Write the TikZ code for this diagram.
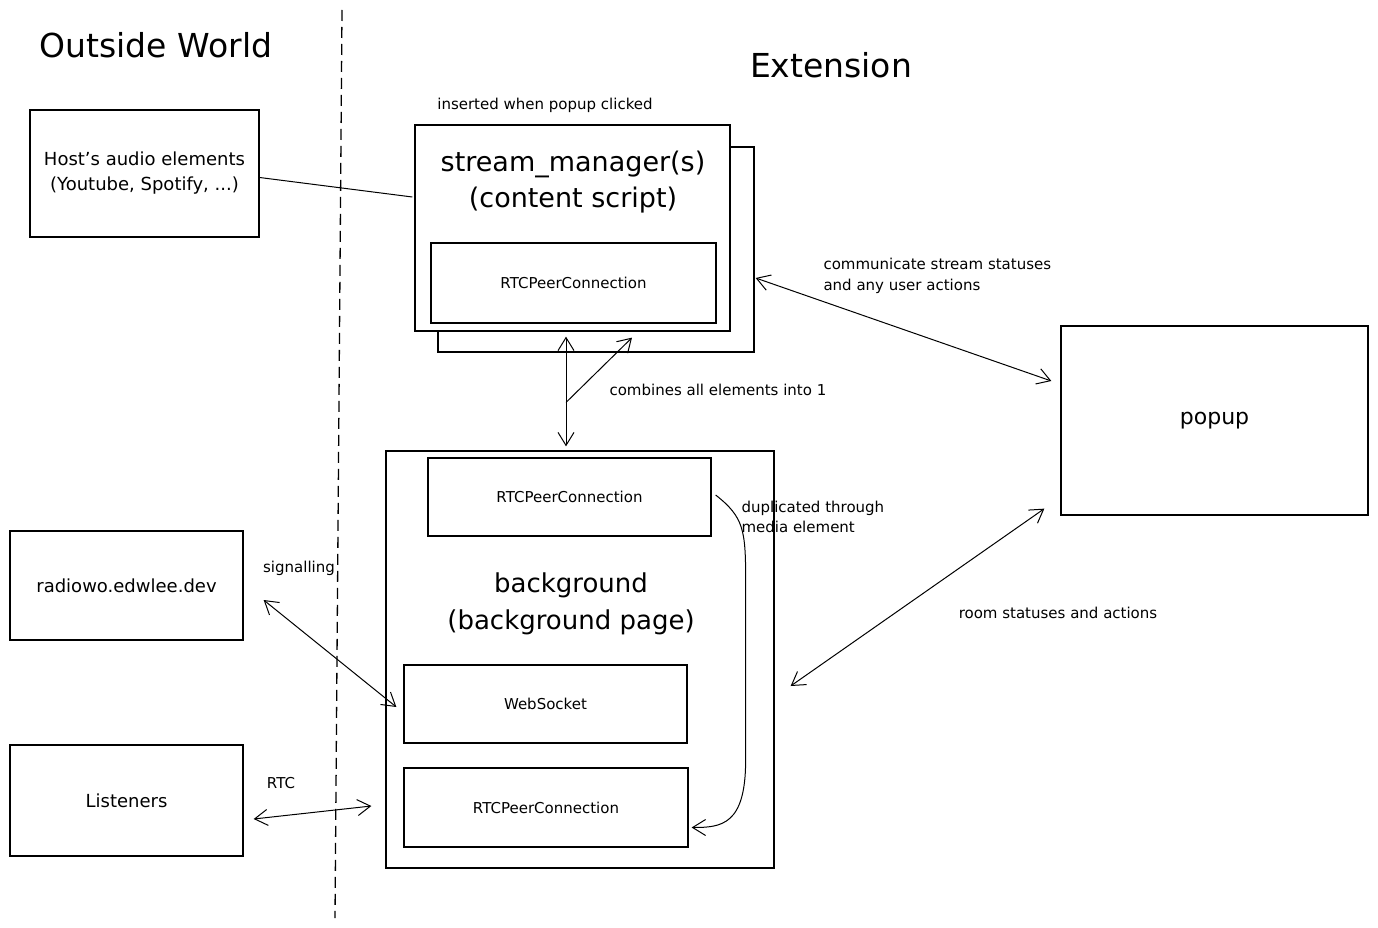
\documentclass[tikz,border=0pt]{standalone}
\usepackage{fontspec}
\setmainfont{DejaVu Sans}
\usetikzlibrary{arrows.meta}

\newcommand{\fs}[2]{\fontsize{#1}{#2}\selectfont}

\tikzset{
  box/.style={draw, line width=1.3pt, fill=white, inner sep=0pt, align=center},
  link/.style={line width=1pt},
  note/.style={font=\fs{15}{20.5}, align=left},
}

\begin{document}
\begin{tikzpicture}[x=1pt, y=-1pt, >={Straight Barb[length=13pt,width=16pt,line width=1pt]}]
    \useasboundingbox (0,0) rectangle (1378,928);
    % headings and the border between both worlds
    \node[font=\fs{33}{38}] (outside) at (156,45) {Outside World};
    \node[font=\fs{33}{38}] (ext) at (831,65) {Extension};
    \draw[line width=1.3pt, dash pattern=on 11pt off 6pt] (342,10) -- (335,918);

    % outside world
    \node[box, minimum width=229pt, minimum height=127pt, font=\fs{18}{25}] (host) at (144.5,173.5) {Host's audio elements\\(Youtube, Spotify, ...)};
    \node[box, minimum width=233pt, minimum height=109pt, font=\fs{18}{25}] (radio) at (126.5,585.5) {radiowo.edwlee.dev};
    \node[box, minimum width=233pt, minimum height=111pt, font=\fs{18}{25}] (listeners) at (126.5,800.5) {Listeners};

    % stream managers
    \node[note] (inserted) at (545,105) {inserted when popup clicked};
    \node[box, minimum width=316pt, minimum height=205pt] (shadow) at (596,249.5) {};
    \node[box, minimum width=315pt, minimum height=206pt] (sm) at (572.5,228) {};
    \node[font=\fs{27}{36}, align=center] (smtitle) at (573,182) {stream\_manager(s)\\(content script)};
    \node[box, minimum width=285pt, minimum height=80pt, font=\fs{15}{18}] (smrtc) at (573.5,283) {RTCPeerConnection};

    % popup
    \node[box, minimum width=307pt, minimum height=189pt, font=\fs{22}{25}] (popup) at (1214.5,420.5) {popup};

    % background
    \node[box, minimum width=388pt, minimum height=417pt] (bg) at (580,659.5) {};
    \node[font=\fs{26}{37}, align=center] (bgtitle) at (571,604) {background\\(background page)};
    \node[box, minimum width=283pt, minimum height=78pt, font=\fs{15}{18}] (bgrtc) at (569.5,497) {RTCPeerConnection};
    \node[box, minimum width=283pt, minimum height=78pt, font=\fs{15}{18}] (ws) at (545.5,704) {WebSocket};
    \node[box, minimum width=284pt, minimum height=79pt, font=\fs{15}{18}] (bgrtc2) at (546,807.5) {RTCPeerConnection};

    % connectors
    \draw[link] ([yshift=-4pt]host.east) -- ([xshift=-2pt,yshift=31pt]sm.west);
    \draw[link, <->] ([xshift=1pt,yshift=-28.5pt]shadow.east) -- ([xshift=-9pt,yshift=39.5pt]popup.west);
    \draw[link, <->] ([xshift=-16pt,yshift=7pt]popup.south west) -- ([xshift=16pt,yshift=-26.5pt]bg.east);
    \draw[link, <->] ([xshift=-6.5pt,yshift=-5pt]sm.south) -- ([xshift=-14pt,yshift=4pt]bg.north) coordinate[pos=0.6] (split);
    \draw[link, ->] (split) -- ([xshift=59.5pt,yshift=-6pt]sm.south);
    \draw[link, ->] ([xshift=4pt,yshift=2pt]bgrtc.east) .. controls +(28,22) and +(0,-50) .. ([xshift=-29pt,yshift=79.5pt]bg.east) -- ([xshift=-29pt,yshift=-100.5pt]bg.east) .. controls +(0,65) and +(30,0) .. ([xshift=3pt,yshift=-20pt]bgrtc2.east);
    \draw[link, <->] ([xshift=20pt,yshift=-14.5pt]radio.east) -- ([xshift=-7pt,yshift=-3pt]ws.west);
    \draw[link, <->] ([xshift=10pt,yshift=-18.5pt]listeners.east) -- ([xshift=-32pt,yshift=1.5pt]bgrtc2.west);

    % connector labels
    \node[note, anchor=west] (statuses) at (820,276) {communicate stream statuses\\and any user actions};
    \node[note, anchor=west] (combines) at (606,390) {combines all elements into 1};
    \node[note, anchor=west] (duplicated) at (738,517) {duplicated through\\media element};
    \node[note] (room) at (1058,613) {room statuses and actions};
    \node[note] (signalling) at (299,568) {signalling};
    \node[note] (rtc) at (281,783) {RTC};
\end{tikzpicture}
\end{document}
